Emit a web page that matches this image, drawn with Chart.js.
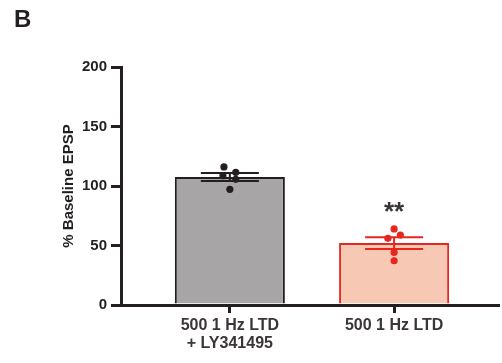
<!DOCTYPE html>
<html>
<head>
<meta charset="utf-8">
<script src="https://cdn.jsdelivr.net/npm/chart.js@4/dist/chart.umd.min.js"></script>
<style>
  html, body { margin: 0; padding: 0; background: #fff; }
  #wrap { width: 502px; height: 363px; position: relative; }
</style>
</head>
<body>
<div id="wrap"><canvas id="ltdChart"></canvas></div>
<script>
// data
const groups = [['500 1 Hz LTD', '+ LY341495'], '500 1 Hz LTD'];
const means = [107.5, 52.0];
const sems = [3.4, 5.0];
const grayPoints = [116, 108.7, 111.5, 105.6, 97.2];
const grayJitter = [-0.036, -0.042, 0.036, 0.036, 0];
const redPoints = [63.9, 56, 58.8, 44.3, 37.2];
const redJitter = [0, -0.038, 0.038, 0, 0];
const yTicks = [0, 50, 100, 150, 200];
const stars = ['', '**'];

const ink = '#231f20';
const red = '#e6261f';

const errorBars = {
  id: 'errorBars',
  afterDatasetDraw(chart, args) {
    if (args.index !== 0) return;
    const ctx = chart.ctx;
    const x = chart.scales.x, y = chart.scales.y;
    const colors = [ink, red];
    ctx.save();
    means.forEach((m, i) => {
      const cx = x.getPixelForValue(i + 1);
      const top = y.getPixelForValue(m + sems[i]);
      const bot = y.getPixelForValue(m - sems[i]);
      ctx.strokeStyle = colors[i];
      ctx.lineWidth = 2;
      ctx.beginPath();
      ctx.moveTo(cx, top); ctx.lineTo(cx, bot);
      ctx.moveTo(cx - 29, top); ctx.lineTo(cx + 29, top);
      ctx.moveTo(cx - 29, bot); ctx.lineTo(cx + 29, bot);
      ctx.stroke();
      if (stars[i]) {
        ctx.fillStyle = '#3a3536';
        ctx.font = 'bold 26px "Liberation Sans", Arial, sans-serif';
        ctx.textAlign = 'center';
        ctx.textBaseline = 'middle';
        ctx.fillText(stars[i], cx, top - 24);
      }
    });
    ctx.restore();
  },
  afterDraw(chart) {
    const ctx = chart.ctx;
    ctx.save();
    ctx.fillStyle = ink;
    ctx.font = 'bold 24px "Liberation Sans", Arial, sans-serif';
    ctx.textBaseline = 'top';
    ctx.fillText('B', 14, 8);
    ctx.restore();
  }
};

const ctx = document.getElementById('ltdChart').getContext('2d');
new Chart(ctx, {
  type: 'bar',
  data: {
    datasets: [{
      type: 'bar',
      order: 2,
      data: means.map((m, i) => ({ x: i + 1, y: m })),
      backgroundColor: ['#a7a5a5', '#f7c9b5'],
      borderColor: [ink, red],
      borderWidth: 2,
      categoryPercentage: 1,
      barPercentage: 0.67
    }, {
      type: 'scatter',
      order: 1,
      data: grayPoints.map((v, i) => ({ x: 1 + grayJitter[i], y: v })),
      backgroundColor: ink,
      borderWidth: 0,
      pointRadius: 3.6
    }, {
      type: 'scatter',
      order: 1,
      data: redPoints.map((v, i) => ({ x: 2 + redJitter[i], y: v })),
      backgroundColor: red,
      borderWidth: 0,
      pointRadius: 3.6
    }]
  },
  options: {
    responsive: true,
    maintainAspectRatio: false,
    animation: false,
    layout: { padding: { top: 67, left: 0, right: 0, bottom: 0 } },
    plugins: { legend: { display: false }, tooltip: { enabled: false } },
    scales: {
      x: {
        type: 'linear',
        offset: false,
        min: 0.3373,
        max: 2.6325,
        afterBuildTicks: s => { s.ticks = groups.map((g, i) => ({ value: i + 1 })); },
        afterFit: s => { s.height = 58; },
        border: { display: true, width: 3, color: ink },
        grid: { display: true, offset: false, drawOnChartArea: false, drawTicks: true, tickLength: 8, lineWidth: 3, color: ink },
        ticks: {
          autoSkip: false,
          maxRotation: 0,
          padding: 3,
          color: '#3a3536',
          font: { family: '"Liberation Sans", Arial, sans-serif', size: 16, weight: 'bold', lineHeight: 1.15 },
          callback: (v, i) => groups[i]
        }
      },
      y: {
        min: 0,
        max: 200,
        afterBuildTicks: s => { s.ticks = yTicks.map(v => ({ value: v })); },
        afterFit: s => { s.width = 121; },
        border: { display: true, width: 3, color: ink },
        grid: { display: true, offset: false, drawOnChartArea: false, drawTicks: true, tickLength: 10, lineWidth: 3, color: ink },
        ticks: {
          padding: 4,
          color: ink,
          font: { family: '"Liberation Sans", Arial, sans-serif', size: 15, weight: 'bold' }
        },
        title: {
          display: true,
          text: '% Baseline EPSP',
          color: ink,
          padding: { top: 60, bottom: 0 },
          font: { family: '"Liberation Sans", Arial, sans-serif', size: 15, weight: 'bold' }
        }
      }
    }
  },
  plugins: [errorBars]
});
</script>
</body>
</html>
